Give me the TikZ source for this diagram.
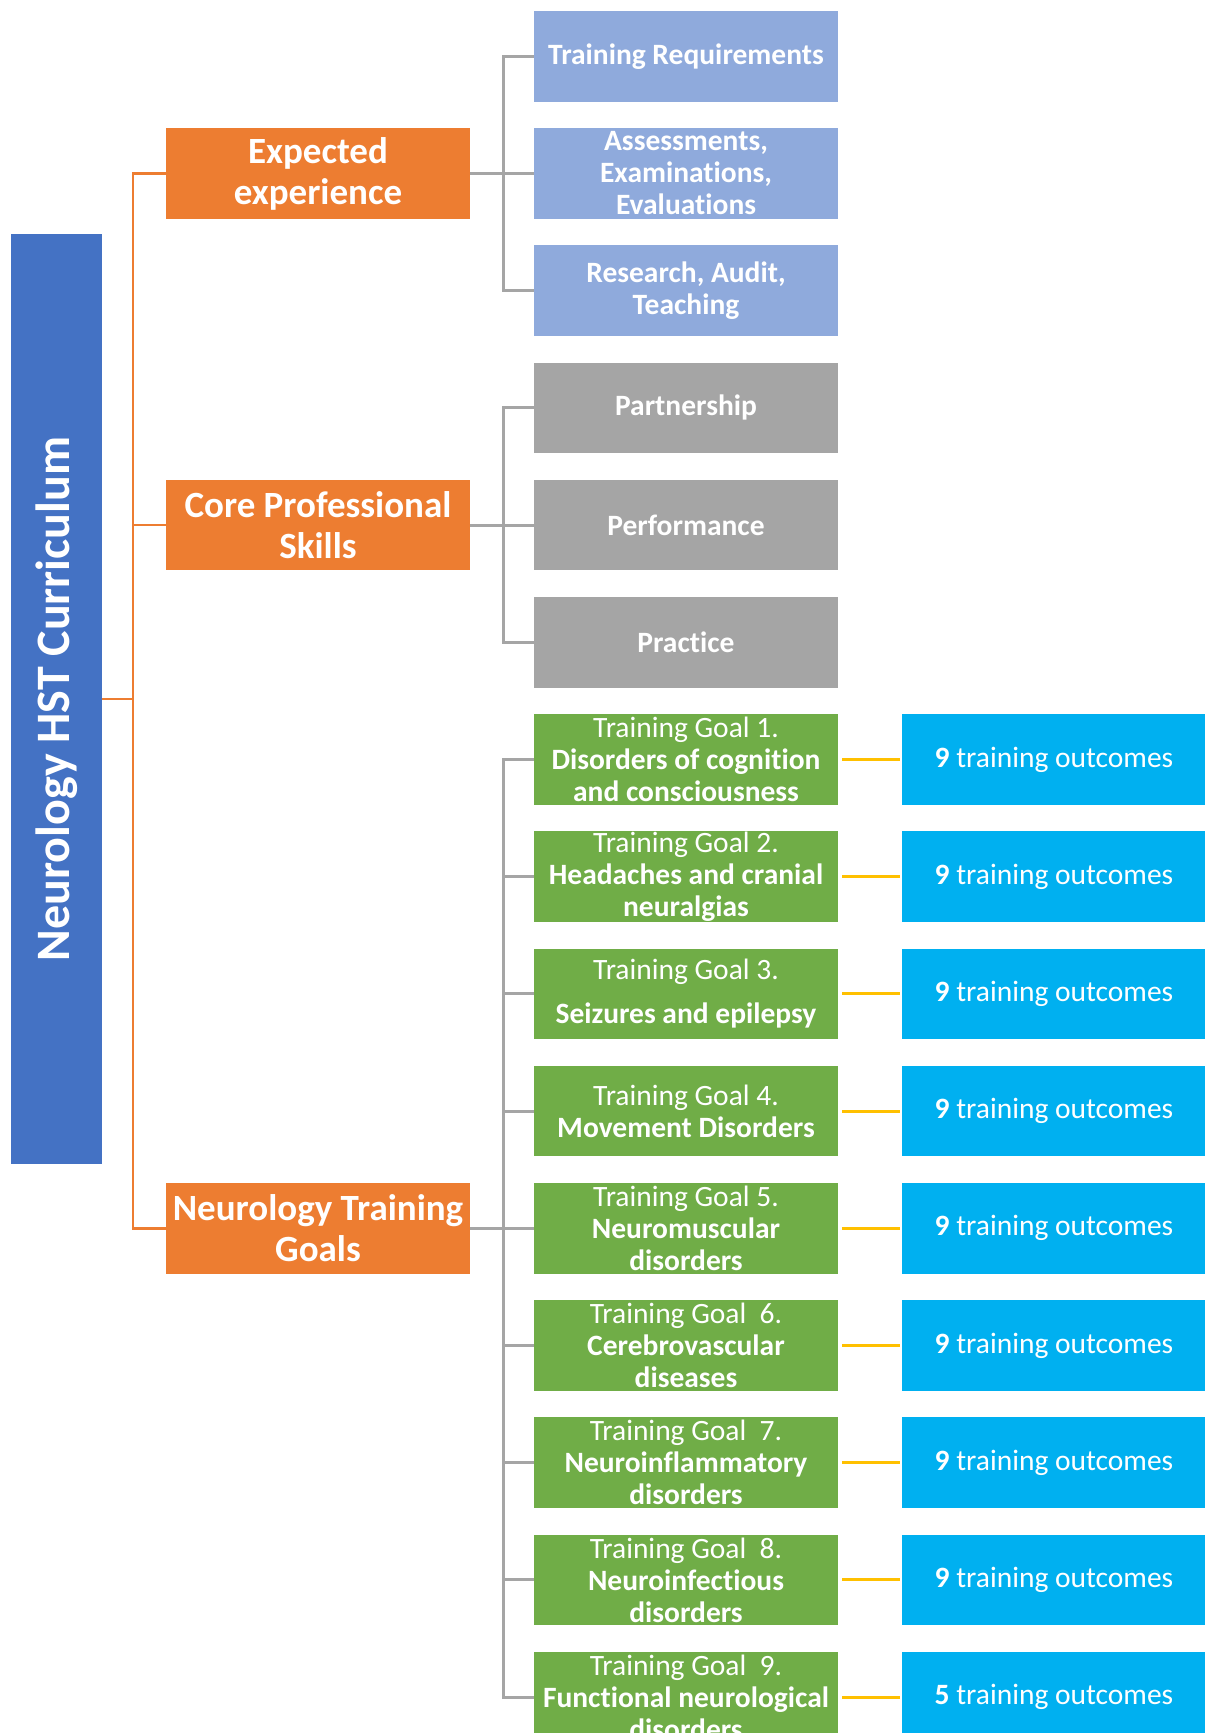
\documentclass[tikz,border=0pt]{standalone}
\usepackage{fontspec}
\setmainfont{Carlito}[Ligatures=NoCommon]
\definecolor{mainblue}{HTML}{4472C4}
\definecolor{orng}{HTML}{ED7D31}
\definecolor{lblue}{HTML}{8FAADC}
\definecolor{gry}{HTML}{A5A5A5}
\definecolor{grn}{HTML}{70AD47}
\definecolor{cyn}{HTML}{00B0F0}
\definecolor{yel}{HTML}{FFC000}
\begin{document}
\begin{tikzpicture}[x=1pt,y=-1pt,
  box/.style={minimum width=304pt, minimum height=90.6pt, inner sep=0pt, align=center, text=white, font=\fontsize{29.5}{32}\selectfont\bfseries},
  orbox/.style={box, fill=orng, font=\fontsize{37}{41}\selectfont\bfseries},
  lbbox/.style={box, fill=lblue},
  grbox/.style={box, fill=gry},
  gnbox/.style={box, fill=grn, font=\fontsize{29.5}{32}\selectfont},
  ocbox/.style={box, fill=cyn, font=\fontsize{29.5}{32}\selectfont},
  oline/.style={draw=orng, line width=2.5pt},
  gline/.style={draw=gry, line width=3pt},
  yline/.style={draw=yel, line width=3pt, shorten <=4pt, shorten >=2pt}
]
\useasboundingbox (0,0) rectangle (1205,1733);
\clip (0,0) rectangle (1205,1733);
\fill[white] (0,0) rectangle (1205,1733);

% main
\node[fill=mainblue, minimum width=91pt, minimum height=930pt, inner sep=0pt] (main) at (56.5,699) {};
\node[rotate=90, text=white, font=\fontsize{48}{56}\selectfont\bfseries] (maintxt) at (main.center) {Neurology HST Curriculum};

% level 2
\node[orbox] (ee) at (318,173.5) {Expected\\experience};
\node[orbox] (cps) at (318,525.1) {Core Professional\\Skills};
\node[orbox] (ntg) at (318,1228.3) {Neurology Training\\Goals};

% level 3
\node[lbbox] (tr) at (686,56.3) {Training Requirements};
\node[lbbox] (aee) at (686,173.5) {Assessments,\\Examinations,\\Evaluations};
\node[lbbox] (rat) at (686,290.7) {Research, Audit,\\Teaching};
\node[grbox] (pa) at (686,407.9) {Partnership};
\node[grbox] (pe) at (686,525.1) {Performance};
\node[grbox] (pr) at (686,642.3) {Practice};

\node[gnbox] (g1) at (686,759.5) {Training Goal 1.\\\textbf{Disorders of cognition}\\\textbf{and consciousness}};
\node[gnbox] (g2) at (686,876.7) {Training Goal 2.\\\textbf{Headaches and cranial}\\\textbf{neuralgias}};
\node[gnbox] (g3) at (686,993.9) {Training Goal 3.\\[12pt]\textbf{Seizures and epilepsy}};
\node[gnbox] (g4) at (686,1111.1) {Training Goal 4.\\\textbf{Movement Disorders}};
\node[gnbox] (g5) at (686,1228.3) {Training Goal 5.\\\textbf{Neuromuscular}\\\textbf{disorders}};
\node[gnbox] (g6) at (686,1345.5) {Training Goal\ \ 6.\\\textbf{Cerebrovascular}\\\textbf{diseases}};
\node[gnbox] (g7) at (686,1462.7) {Training Goal\ \ 7.\\\textbf{Neuroinflammatory}\\\textbf{disorders}};
\node[gnbox] (g8) at (686,1579.9) {Training Goal\ \ 8.\\\textbf{Neuroinfectious}\\\textbf{disorders}};
\node[gnbox] (g9) at (686,1697.1) {Training Goal\ \ 9.\\\textbf{Functional neurological}\\\textbf{disorders}};

% outcomes
\node[ocbox] (o1) at (1054,759.5) {\textbf{9} training outcomes};
\node[ocbox] (o2) at (1054,876.7) {\textbf{9} training outcomes};
\node[ocbox] (o3) at (1054,993.9) {\textbf{9} training outcomes};
\node[ocbox] (o4) at (1054,1111.1) {\textbf{9} training outcomes};
\node[ocbox] (o5) at (1054,1228.3) {\textbf{9} training outcomes};
\node[ocbox] (o6) at (1054,1345.5) {\textbf{9} training outcomes};
\node[ocbox] (o7) at (1054,1462.7) {\textbf{9} training outcomes};
\node[ocbox] (o8) at (1054,1579.9) {\textbf{9} training outcomes};
\node[ocbox] (o9) at (1054,1697.1) {\textbf{5} training outcomes};

% orange connectors
\draw[oline] (main.east) -- ++(31,0) |- (ee.west);
\draw[oline] (main.east) -- ++(31,0) |- (cps.west);
\draw[oline] (main.east) -- ++(31,0) |- (ntg.west);

% gray connectors
\foreach \c in {tr,aee,rat} \draw[gline] (ee.east) -- ++(33,0) |- (\c.west);
\foreach \c in {pa,pe,pr} \draw[gline] (cps.east) -- ++(33,0) |- (\c.west);
\foreach \c in {g1,g2,g3,g4,g5,g6,g7,g8,g9} \draw[gline] (ntg.east) -- ++(33,0) |- (\c.west);

% yellow connectors
\foreach \i in {1,...,9} \draw[yline] (g\i.east) -- (o\i.west);
\end{tikzpicture}
\end{document}
